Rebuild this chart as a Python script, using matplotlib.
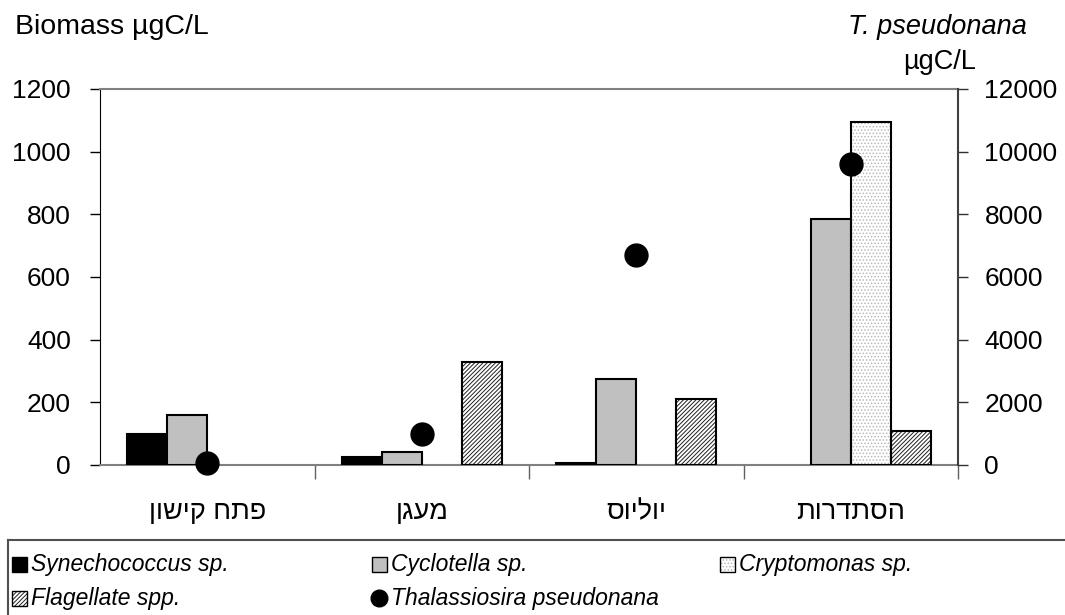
import numpy as np
import matplotlib
matplotlib.use('Agg')
import matplotlib.pyplot as plt
from matplotlib.patches import Rectangle
from matplotlib.lines import Line2D

plt.rcParams['font.family'] = ['Liberation Sans', 'DejaVu Sans']
plt.rcParams['hatch.linewidth'] = 0.7

# sites (Hebrew, logical order)
sites = ['פתח קישון', 'מעגן', 'יוליוס', 'הסתדרות']
# biomass, left axis (ugC/L)
synechococcus = [100, 25, 5, 0]
cyclotella = [158, 40, 275, 785]
cryptomonas = [0, 0, 0, 1095]
flagellate = [0, 330, 210, 110]
# T. pseudonana, right axis (ugC/L)
thalassiosira = [50, 1000, 6700, 9600]

left_ticks = [0, 200, 400, 600, 800, 1000, 1200]
right_ticks = [0, 2000, 4000, 6000, 8000, 10000, 12000]

W, H = 1065, 615
fig = plt.figure(figsize=(W / 100, H / 100), dpi=100)
ax = fig.add_axes([100 / W, 1 - 465 / H, 858 / W, 376 / H])
ax2 = ax.twinx()

x = np.arange(len(sites))
w = 0.1865
series = [
    (synechococcus, 'black', None, None),
    (cyclotella, '#c0c0c0', None, None),
    (cryptomonas, 'white', '.....', '#b8b8b8'),
    (flagellate, 'white', '////////', '#202020'),
]
for i, (vals, fc, hatch, hc) in enumerate(series):
    pos = x + (i - 1.5) * w
    vals = np.array(vals, dtype=float)
    vals[vals == 0] = np.nan
    if hatch:
        ax.bar(pos, vals, w, color=fc, edgecolor=hc, hatch=hatch, linewidth=0, zorder=2)
        ax.bar(pos, vals, w, fill=False, edgecolor='black', linewidth=1.5, zorder=3)
    else:
        ax.bar(pos, vals, w, color=fc, edgecolor='black', linewidth=1.5, zorder=3)

ax2.plot(x, thalassiosira, 'o', color='black', markersize=16.5, clip_on=False, zorder=5)

ax.set_xlim(-0.5, 3.5)
ax.set_ylim(0, 1200)
ax2.set_ylim(0, 12000)
ax.set_yticks(left_ticks)
ax2.set_yticks(right_ticks)
ax.tick_params(axis='y', labelsize=19, length=7, width=1, direction='out', pad=14)
ax2.tick_params(axis='y', labelsize=19, length=7, width=1, direction='out', pad=12,
                colors='#303030', labelcolor='black')

# category boundaries as ticks, labels centered between
ax.set_xticks(np.arange(0.5, 3.6, 1.0))
ax.set_xticklabels([])
ax.tick_params(axis='x', length=10, width=1, colors='#606060')
for xi, s in zip(x, sites):
    ax.text(xi, -0.125, s[::-1], transform=ax.get_xaxis_transform(),
            ha='center', va='center', fontsize=19.5)

for sp in ['top', 'bottom']:
    ax.spines[sp].set_color('#808080')
    ax.spines[sp].set_linewidth(1.5)
ax.spines['left'].set_color('black')
ax2.spines['right'].set_color('#404040')
ax2.spines['right'].set_linewidth(1.5)
for sp in ['top', 'bottom', 'left']:
    ax2.spines[sp].set_visible(False)
ax.spines['right'].set_visible(False)

fig.text(15 / W, 1 - 27 / H, 'Biomass µgC/L', fontsize=20.5, va='center', ha='left')
fig.text(937 / W, 1 - 27 / H, 'T. pseudonana', fontsize=19.5, style='italic',
         va='center', ha='center')
fig.text(940 / W, 1 - 62 / H, 'µgC/L', fontsize=19.5, va='center', ha='center')

# legend box (runs off the right and bottom edges)
fig.add_artist(Line2D([8 / W, 1.0], [1 - 540 / H] * 2, color='#505050', lw=1.5))
fig.add_artist(Line2D([8 / W] * 2, [1 - 540 / H, 0], color='#505050', lw=1.5))

legend_items = [
    ('Synechococcus sp.', 12, 564, 'black', None, None),
    ('Cyclotella sp.', 372, 564, '#c0c0c0', None, None),
    ('Cryptomonas sp.', 720, 564, 'white', '.....', '#b8b8b8'),
    ('Flagellate spp.', 12, 598, 'white', '////////', '#202020'),
]
s = 15
for label, lx, ly, fc, hatch, hc in legend_items:
    if hatch:
        fig.add_artist(Rectangle((lx / W, 1 - (ly + s / 2) / H), s / W, s / H,
                                 facecolor=fc, edgecolor=hc, hatch=hatch, lw=0))
        fig.add_artist(Rectangle((lx / W, 1 - (ly + s / 2) / H), s / W, s / H,
                                 fill=False, edgecolor='black', lw=1))
    else:
        fig.add_artist(Rectangle((lx / W, 1 - (ly + s / 2) / H), s / W, s / H,
                                 facecolor=fc, edgecolor='black', lw=1))
    fig.text((lx + s + 4) / W, 1 - ly / H, label, fontsize=16.5, style='italic',
             va='center', ha='left')

fig.add_artist(Line2D([(372 + 7) / W], [1 - 598 / H], marker='o', color='black',
                      markersize=12, linestyle='none'))
fig.text((372 + s + 4) / W, 1 - 598 / H, 'Thalassiosira pseudonana', fontsize=16.5,
         style='italic', va='center', ha='left')

fig.savefig('out.png', dpi=100)
